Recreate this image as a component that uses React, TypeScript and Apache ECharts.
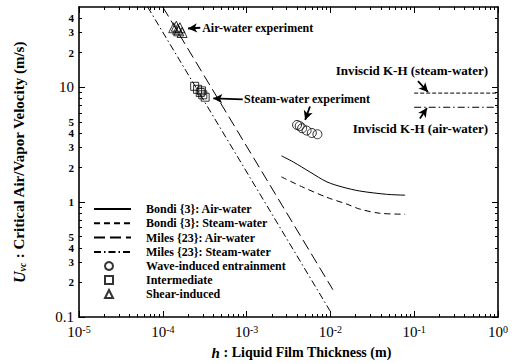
import React, { useEffect, useRef } from 'react';
import * as echarts from 'echarts';

// ---- data ----
const bondiAirH = [2.6e-3, 3.6e-3, 5.7e-3, 9.1e-3, 0.0141, 0.0224, 0.0468, 0.078];
const bondiAirU = [2.53, 2.24, 1.83, 1.5, 1.35, 1.25, 1.17, 1.15];
const bondiSteamH = [2.6e-3, 4.7e-3, 9.1e-3, 0.0158, 0.0224, 0.039, 0.078];
const bondiSteamU = [1.66, 1.35, 1.1, 0.96, 0.87, 0.8, 0.785];
const milesAirH = [1.0e-4, 0.0107];
const milesAirU = [50, 0.173];
const milesSteamH = [6.6e-5, 9.9e-3];
const milesSteamU = [50, 0.113];
const khSteamH = [0.1, 1];
const khSteamU = [8.9, 8.9];
const khAirH = [0.1, 1];
const khAirU = [6.7, 6.7];

const waveH = [4.0e-3, 4.3e-3, 4.6e-3, 5.2e-3, 6.0e-3, 7.0e-3];
const waveU = [4.7, 4.6, 4.4, 4.2, 4.0, 3.9];
const interH = [2.4e-4, 2.6e-4, 2.8e-4, 2.9e-4, 3.0e-4, 3.2e-4];
const interU = [10.2, 9.6, 9.0, 9.3, 8.6, 8.2];
const shearH = [1.35e-4, 1.45e-4, 1.5e-4, 1.55e-4, 1.6e-4, 1.7e-4];
const shearU = [33, 34, 32, 31, 33, 30];

const lineNames = [
  'Bondi {3}: Air-water',
  'Bondi {3}: Steam-water',
  'Miles {23}: Air-water',
  'Miles {23}: Steam-water',
];
const markerNames = ['Wave-induced entrainment', 'Intermediate', 'Shear-induced'];

const xMajorTicks = [1e-5, 1e-4, 1e-3, 1e-2, 1e-1, 1];
const xMajorExps = ['-5', '-4', '-3', '-2', '-1', '0'];
const xMinorTicks = [2, 3, 4, 5, 6, 7, 8, 9].flatMap((m) => [1e-5, 1e-4, 1e-3, 1e-2, 1e-1].map((d) => m * d));

const yLabelValues = [0.1, 0.2, 0.3, 0.4, 0.5, 1, 2, 3, 4, 5, 10, 20, 30, 40];
const yLabelTexts = ['0.1', '2', '3', '4', '5', '1', '2', '3', '4', '5', '10', '2', '3', '4'];
const yMajorTicks = [0.1, 1, 10];
const yMinorTicks = [0.2, 0.3, 0.4, 0.5, 0.6, 0.7, 0.8, 0.9, 2, 3, 4, 5, 6, 7, 8, 9, 20, 30, 40];

// annotations (data coordinates)
const annotTexts = [
  { text: 'Air-water experiment', coord: [2.95e-4, 33], pos: 'right', size: 12 },
  { text: 'Steam-water experiment', coord: [9.3e-4, 7.85], pos: 'right', size: 12 },
  { text: 'Inviscid K-H (steam-water)', coord: [0.76, 14.1], pos: 'left', size: 13 },
  { text: 'Inviscid K-H (air-water)', coord: [0.76, 4.37], pos: 'left', size: 13 },
];
const arrows = [
  [[2.8e-4, 33], [2.0e-4, 32.5]],
  [[9.0e-4, 7.85], [4.0e-4, 8.0]],
  [[5.7e-3, 6.8], [5.0e-3, 5.2]],
  [[0.111, 11.3], [0.146, 9.1]],
  [[0.117, 5.35], [0.142, 6.6]],
];

const zip = (a: number[], b: number[]) => a.map((v, i) => [v, b[i]]);
const FONT = 'Liberation Serif';

function nearestIdx(vals: number[], v: number) {
  let best = 0;
  let bd = Infinity;
  vals.forEach((x, i) => {
    const d = Math.abs(Math.log10(x) - Math.log10(v));
    if (d < bd) {
      bd = d;
      best = i;
    }
  });
  return best;
}

const blackLine = (type: any, width = 1) => ({ color: '#000', width, type });

export default function App() {
  const ref = useRef<HTMLDivElement>(null);
  useEffect(() => {
    if (!ref.current) return;
    const chart = echarts.init(ref.current, undefined, { renderer: 'svg' });
    const axisLineStyle = { color: '#000', width: 1.6 };
    const baseX = {
      type: 'log',
      logBase: 10,
      min: 1e-5,
      max: 1,
      gridIndex: 0,
      splitLine: { show: false },
      minorTick: { show: false },
    };
    const baseY = {
      type: 'log',
      logBase: 10,
      min: 0.1,
      max: 50,
      gridIndex: 0,
      splitLine: { show: false },
      minorTick: { show: false },
    };
    const legendText = {
      fontFamily: FONT,
      fontSize: 12,
      fontWeight: 'bold',
      color: '#000',
      lineHeight: 14,
    };
    const option: any = {
      animation: false,
      backgroundColor: '#fff',
      textStyle: { fontFamily: FONT, color: '#000' },
      grid: { left: 79, right: 17, top: 7, bottom: 47, containLabel: false, outerBoundsMode: 'none' },
      legend: [
        {
          data: lineNames.map((n) => ({ name: n, itemStyle: { opacity: 0 } })),
          orient: 'vertical',
          left: 93,
          top: 202,
          padding: 0,
          itemWidth: 37,
          itemHeight: 8,
          itemGap: 0.3,
          textStyle: { ...legendText, padding: [0, 0, 0, 10] },
        },
        {
          data: markerNames,
          orient: 'vertical',
          left: 104,
          top: 259,
          padding: 0,
          itemWidth: 8,
          itemHeight: 8,
          itemGap: 0,
          textStyle: { ...legendText, padding: [0, 0, 0, 28] },
        },
      ],
      xAxis: [
        {
          ...baseX,
          position: 'bottom',
          axisLine: { show: true, lineStyle: axisLineStyle },
          axisTick: { show: true, inside: true, length: 6, customValues: xMajorTicks, lineStyle: { color: '#000' } },
          axisLabel: {
            show: true,
            customValues: xMajorTicks,
            margin: 7,
            color: '#000',
            fontFamily: FONT,
            fontSize: 15,
            formatter: (v: number) => `10{sup|${xMajorExps[nearestIdx(xMajorTicks, v)]}}`,
            rich: { sup: { fontSize: 10, fontFamily: FONT, color: '#000', padding: [0, 0, 6, 0] } },
          },
          name: '{i|h} : Liquid Film Thickness (m)',
          nameLocation: 'middle',
          nameGap: 28,
          nameTextStyle: {
            fontFamily: FONT,
            fontSize: 14,
            fontWeight: 'bold',
            color: '#000',
            padding: [0, 0, 0, 26],
            rich: { i: { fontFamily: FONT, fontSize: 15, fontStyle: 'italic', color: '#000' } },
          },
        },
        {
          ...baseX,
          position: 'bottom',
          axisLine: { show: false },
          axisTick: { show: true, inside: true, length: 3, customValues: xMinorTicks, lineStyle: { color: '#000' } },
          axisLabel: { show: false },
        },
        {
          ...baseX,
          position: 'top',
          axisLine: { show: true, lineStyle: axisLineStyle },
          axisTick: { show: true, inside: true, length: 6, customValues: xMajorTicks, lineStyle: { color: '#000' } },
          axisLabel: { show: false },
        },
        {
          ...baseX,
          position: 'top',
          axisLine: { show: false },
          axisTick: { show: true, inside: true, length: 3, customValues: xMinorTicks, lineStyle: { color: '#000' } },
          axisLabel: { show: false },
        },
      ],
      yAxis: [
        {
          ...baseY,
          position: 'left',
          axisLine: { show: true, lineStyle: axisLineStyle },
          axisTick: { show: true, inside: true, length: 6, customValues: yMajorTicks, lineStyle: { color: '#000' } },
          axisLabel: {
            show: true,
            customValues: yLabelValues,
            margin: 5,
            color: '#000',
            fontFamily: FONT,
            formatter: (v: number) => {
              const t = yLabelTexts[nearestIdx(yLabelValues, v)];
              return t === '0.1' || t === '10' ? `{big|${t}}` : `{small|${t}}`;
            },
            rich: {
              big: { fontSize: 15, fontFamily: FONT, color: '#000' },
              small: { fontSize: 11, fontWeight: 'bold', fontFamily: FONT, color: '#000' },
            },
          },
          name: '{i|U}{sub|vc} : Critical Air/Vapor Velocity (m/s)',
          nameLocation: 'middle',
          nameRotate: 90,
          nameGap: 52,
          nameTextStyle: {
            fontFamily: FONT,
            fontSize: 15,
            fontWeight: 'bold',
            color: '#000',
            rich: {
              i: { fontFamily: FONT, fontSize: 16, fontStyle: 'italic', color: '#000' },
              sub: { fontFamily: FONT, fontSize: 10, fontStyle: 'italic', color: '#000', padding: [6, 0, 0, 0] },
            },
          },
        },
        {
          ...baseY,
          position: 'left',
          axisLine: { show: false },
          axisTick: { show: true, inside: true, length: 3, customValues: yMinorTicks, lineStyle: { color: '#000' } },
          axisLabel: { show: false },
        },
        {
          ...baseY,
          position: 'right',
          axisLine: { show: true, lineStyle: axisLineStyle },
          axisTick: { show: true, inside: true, length: 6, customValues: yMajorTicks, lineStyle: { color: '#000' } },
          axisLabel: { show: false },
        },
        {
          ...baseY,
          position: 'right',
          axisLine: { show: false },
          axisTick: { show: true, inside: true, length: 3, customValues: yMinorTicks, lineStyle: { color: '#000' } },
          axisLabel: { show: false },
        },
      ],
      series: [
        {
          type: 'line',
          name: lineNames[0],
          data: zip(bondiAirH, bondiAirU),
          symbol: 'none',
          smooth: 0.3,
          itemStyle: { color: '#000' },
          lineStyle: blackLine('solid'),
        },
        {
          type: 'line',
          name: lineNames[1],
          data: zip(bondiSteamH, bondiSteamU),
          symbol: 'none',
          smooth: 0.3,
          itemStyle: { color: '#000' },
          lineStyle: blackLine([6, 4]),
        },
        {
          type: 'line',
          name: lineNames[2],
          data: zip(milesAirH, milesAirU),
          symbol: 'none',
          itemStyle: { color: '#000' },
          lineStyle: blackLine([11, 5]),
        },
        {
          type: 'line',
          name: lineNames[3],
          data: zip(milesSteamH, milesSteamU),
          symbol: 'none',
          itemStyle: { color: '#000' },
          lineStyle: blackLine([7, 3, 1.5, 3]),
        },
        {
          type: 'scatter',
          name: markerNames[0],
          data: zip(waveH, waveU),
          symbol: 'circle',
          symbolSize: 9,
          itemStyle: { color: 'rgba(255,255,255,0)', borderColor: '#000', borderWidth: 1 },
        },
        {
          type: 'scatter',
          name: markerNames[1],
          data: zip(interH, interU),
          symbol: 'rect',
          symbolSize: 8,
          itemStyle: { color: 'rgba(255,255,255,0)', borderColor: '#000', borderWidth: 1 },
        },
        {
          type: 'scatter',
          name: markerNames[2],
          data: zip(shearH, shearU),
          symbol: 'triangle',
          symbolSize: 10,
          itemStyle: { color: 'rgba(255,255,255,0)', borderColor: '#000', borderWidth: 1 },
        },
        {
          type: 'line',
          name: 'KH steam',
          data: zip(khSteamH, khSteamU),
          symbol: 'none',
          itemStyle: { color: '#000' },
          lineStyle: blackLine([4, 2]),
        },
        {
          type: 'line',
          name: 'KH air',
          data: zip(khAirH, khAirU),
          symbol: 'none',
          itemStyle: { color: '#000' },
          lineStyle: blackLine([7, 3, 1.5, 3]),
          markPoint: {
            symbol: 'circle',
            symbolSize: 0,
            data: annotTexts.map((a) => ({
              coord: a.coord,
              label: {
                show: true,
                position: a.pos,
                distance: 0,
                align: a.pos === 'left' ? 'right' : 'left',
                verticalAlign: 'middle',
                formatter: a.text,
                fontFamily: FONT,
                fontSize: a.size,
                fontWeight: 'bold',
                color: '#000',
              },
            })),
          },
          markLine: {
            silent: true,
            symbol: ['none', 'arrow'],
            symbolSize: [7, 9],
            label: { show: false },
            lineStyle: { color: '#000', width: 1.8, type: 'solid' },
            data: arrows.map((p) => [{ coord: p[0] }, { coord: p[1] }]),
          },
        },
      ],
    };
    chart.setOption(option);
    return () => chart.dispose();
  }, []);
  return <div ref={ref} style={{ width: 515, height: 364, position: 'absolute', left: 0, top: 0 }} />;
}
